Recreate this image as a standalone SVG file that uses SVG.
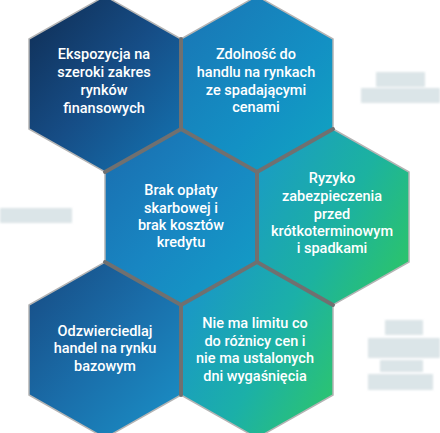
<svg xmlns="http://www.w3.org/2000/svg" width="440" height="433" viewBox="0 0 440 433">
  <defs>
    <linearGradient id="gA" x1="0" y1="0" x2="1" y2="1">
      <stop offset="0" stop-color="#0f2c52"/>
      <stop offset="0.5" stop-color="#164d86"/>
      <stop offset="1" stop-color="#1376b4"/>
    </linearGradient>
    <linearGradient id="gB" x1="0" y1="0" x2="1" y2="1">
      <stop offset="0" stop-color="#1a74b4"/>
      <stop offset="0.6" stop-color="#1390c4"/>
      <stop offset="1" stop-color="#10a6c0"/>
    </linearGradient>
    <linearGradient id="gC" x1="0" y1="0" x2="1" y2="1">
      <stop offset="0" stop-color="#1a6cae"/>
      <stop offset="0.5" stop-color="#1886c2"/>
      <stop offset="1" stop-color="#12a0c6"/>
    </linearGradient>
    <linearGradient id="gD" x1="0" y1="0.2" x2="1" y2="0.8">
      <stop offset="0" stop-color="#1a9cc4"/>
      <stop offset="0.55" stop-color="#1cb2a0"/>
      <stop offset="1" stop-color="#2cc46a"/>
    </linearGradient>
    <linearGradient id="gE" x1="0" y1="0" x2="1" y2="1">
      <stop offset="0" stop-color="#174a82"/>
      <stop offset="0.5" stop-color="#1a6eaa"/>
      <stop offset="1" stop-color="#1a92c8"/>
    </linearGradient>
    <linearGradient id="gF" x1="0" y1="0.2" x2="1" y2="0.8">
      <stop offset="0" stop-color="#1a96c8"/>
      <stop offset="0.55" stop-color="#1bb0a8"/>
      <stop offset="1" stop-color="#2cc470"/>
    </linearGradient>
    <filter id="blur" x="-10%" y="-30%" width="120%" height="160%">
      <feGaussianBlur stdDeviation="1.2"/>
    </filter>
    <polygon id="hex" points="0,-88 76,-45 76,45 0,88 -76,45 -76,-45"/>
  </defs>
  <style>
    .hex { stroke: #b4b4b4; stroke-width: 1.5; stroke-linejoin: miter; }
    .lbl { font-family: Roboto, "Liberation Sans", sans-serif; font-size: 14.5px; font-weight: 500; fill: #ffffff; text-anchor: middle; }
    .faint { fill: #b9ccd2; opacity: 0.5; filter: url(#blur); }
    .gap { stroke: #707070; stroke-width: 4; stroke-linecap: round; fill: none; }
  </style>

  <g id="faint-labels">
    <rect class="faint" x="376" y="72" width="49" height="15"/>
    <rect class="faint" x="361" y="88" width="79" height="15"/>
    <rect class="faint" x="0" y="208" width="72" height="15"/>
    <rect class="faint" x="385" y="320" width="38" height="15"/>
    <rect class="faint" x="368" y="338" width="72" height="20"/>
    <rect class="faint" x="380" y="360" width="43" height="12"/>
    <rect class="faint" x="368" y="374" width="65" height="16"/>
  </g>

  <g id="node-A">
    <use href="#hex" x="105" y="84" fill="url(#gA)" class="hex"/>
    <text class="lbl" x="104" y="59">Ekspozycja na</text>
    <text class="lbl" x="104" y="77">szeroki zakres</text>
    <text class="lbl" x="104" y="95">rynków</text>
    <text class="lbl" x="104" y="113">finansowych</text>
  </g>
  <g id="node-B">
    <use href="#hex" x="257" y="84" fill="url(#gB)" class="hex"/>
    <text class="lbl" x="256" y="59">Zdolność do</text>
    <text class="lbl" x="256" y="77">handlu na rynkach</text>
    <text class="lbl" x="256" y="95">ze spadającymi</text>
    <text class="lbl" x="256" y="112">cenami</text>
  </g>
  <g id="node-C">
    <use href="#hex" x="181" y="217" fill="url(#gC)" class="hex"/>
    <text class="lbl" x="181" y="195">Brak opłaty</text>
    <text class="lbl" x="181" y="213">skarbowej i</text>
    <text class="lbl" x="181" y="230">brak kosztów</text>
    <text class="lbl" x="181" y="247">kredytu</text>
  </g>
  <g id="node-D">
    <use href="#hex" x="333" y="217" fill="url(#gD)" class="hex"/>
    <text class="lbl" x="332" y="183">Ryzyko</text>
    <text class="lbl" x="332" y="201">zabezpieczenia</text>
    <text class="lbl" x="332" y="219">przed</text>
    <text class="lbl" x="332" y="236">krótkoterminowym</text>
    <text class="lbl" x="332" y="253">i spadkami</text>
  </g>
  <g id="node-E">
    <use href="#hex" x="105" y="350" fill="url(#gE)" class="hex"/>
    <text class="lbl" x="105" y="336">Odzwierciedlaj</text>
    <text class="lbl" x="105" y="353">handel na rynku</text>
    <text class="lbl" x="105" y="371">bazowym</text>
  </g>
  <g id="node-F">
    <use href="#hex" x="257" y="350" fill="url(#gF)" class="hex"/>
    <text class="lbl" x="255" y="328">Nie ma limitu co</text>
    <text class="lbl" x="255" y="346">do różnicy cen i</text>
    <text class="lbl" x="255" y="363">nie ma ustalonych</text>
    <text class="lbl" x="255" y="381">dni wygaśnięcia</text>
  </g>

  <g id="connectors">
    <path class="gap" d="M181,39 L181,129 M105,172 L181,129 L257,172 L333,129 M257,172 L257,262 M105,262 L181,305 L257,262 L333,305 M181,305 L181,395"/>
  </g>
</svg>
